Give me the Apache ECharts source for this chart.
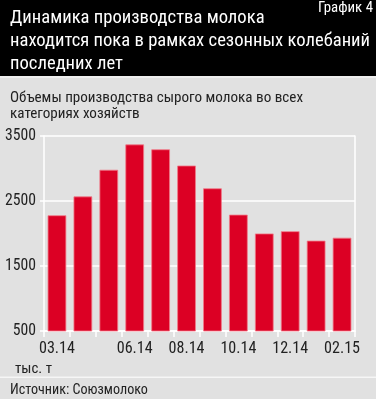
<!DOCTYPE html>
<html><head><meta charset="utf-8">
<script src="https://cdn.jsdelivr.net/npm/echarts@6/dist/echarts.min.js"></script>
<style>html,body{margin:0;padding:0;background:#e1e1e1;}#c{width:376px;height:399px;}</style>
</head><body><div id="c"></div>
<script>
var categories = ['03.14','04.14','05.14','06.14','07.14','08.14','09.14','10.14','11.14','12.14','01.15','02.15'];
var values = [2280, 2570, 2980, 3370, 3295, 3045, 2695, 2290, 2000, 2035, 1890, 1935];
var shownLabels = ['03.14','06.14','08.14','10.14','12.14','02.15'];
var yTicks = [500, 1500, 2500, 3500];
var titleLines = ['Динамика производства молока','находится пока в рамках сезонных колебаний','последних лет'];
var subtitleLines = ['Объемы производства сырого молока во всех','категориях хозяйств'];
var chartNo = 'График 4';
var unitText = 'тыс. т';
var sourceText = 'Источник: Союзмолоко';

var FAM = '"Roboto Condensed",sans-serif';
var ctx = document.createElement('canvas').getContext('2d');
function fit(text, w){ ctx.font = '100px ' + FAM; return +(100 * w / ctx.measureText(text).width).toFixed(2); }
var titleSize = fit(titleLines[1], 360);
var subSize = fit(subtitleLines[0], 293);
var noSize = fit(chartNo, 55);
var unitSize = fit(unitText, 37);
var srcSize = fit(sourceText, 138);
var ySize = fit('3500', 31);
var xSize = fit('03.14', 36);

function txt(s, x, y, size, fill, align){
  return {type:'text', x:x, y:y, style:{text:s, fill:fill, font:size+'px '+FAM, verticalAlign:'middle', align:align||'left'}};
}
var g = [
  {type:'rect', shape:{x:0,y:0,width:376,height:76}, style:{fill:'#000'}},
  {type:'rect', shape:{x:0,y:76,width:376,height:2}, style:{fill:'#efefef'}},
  {type:'rect', shape:{x:0,y:376.5,width:376,height:1.5}, style:{fill:'#f6f6f6'}}
];
var ty = [18, 41.5, 64];
titleLines.forEach(function(s,i){ g.push(txt(s, 10, ty[i], titleSize, '#fff')); });
g.push(txt(chartNo, 373, 8, noSize, '#fff', 'right'));
var sy = [98.5, 114];
subtitleLines.forEach(function(s,i){ g.push(txt(s, 10, sy[i], subSize, '#222')); });
g.push(txt(unitText, 15, 369, unitSize, '#222'));
g.push(txt(sourceText, 10, 390, srcSize, '#222'));

var chart = echarts.init(document.getElementById('c'));
chart.setOption({
  backgroundColor: '#e1e1e1',
  animation: false,
  graphic: g,
  grid: {left:44, right:21, top:136, bottom:68},
  xAxis: {
    type:'category', data: categories, boundaryGap:true,
    axisLine:{show:true, lineStyle:{color:'#fff', width:1.5}},
    axisTick:{show:true, interval:0, length:6, lineStyle:{color:'#fff', width:1.5}},
    axisLabel:{interval:0, color:'#222', fontFamily:FAM, fontSize:xSize, margin:10,
      formatter:function(v){return shownLabels.indexOf(v)>=0?v:'';}}
  },
  yAxis: [{
    type:'value', min:yTicks[0], max:yTicks[yTicks.length-1], interval:1000,
    axisLine:{show:true, lineStyle:{color:'#fff', width:1.5}},
    axisTick:{show:true, length:4, lineStyle:{color:'#fff', width:1.5}},
    axisLabel:{color:'#222', fontFamily:FAM, fontSize:ySize, margin:8, formatter:function(v){return String(v);}},
    splitLine:{show:true, lineStyle:{color:'#fff', width:1.5}}
  },{
    type:'value', position:'right', min:yTicks[0], max:yTicks[yTicks.length-1], interval:1000,
    axisLine:{show:true, lineStyle:{color:'#fff', width:1.5}},
    axisTick:{show:false}, axisLabel:{show:false}, splitLine:{show:false}
  }],
  series: [{
    type:'bar', data: values, barWidth:'72%',
    itemStyle:{color:'#dc0024', borderColor:'#f07a88', borderWidth:0.8}
  }]
});
</script>
</body></html>
